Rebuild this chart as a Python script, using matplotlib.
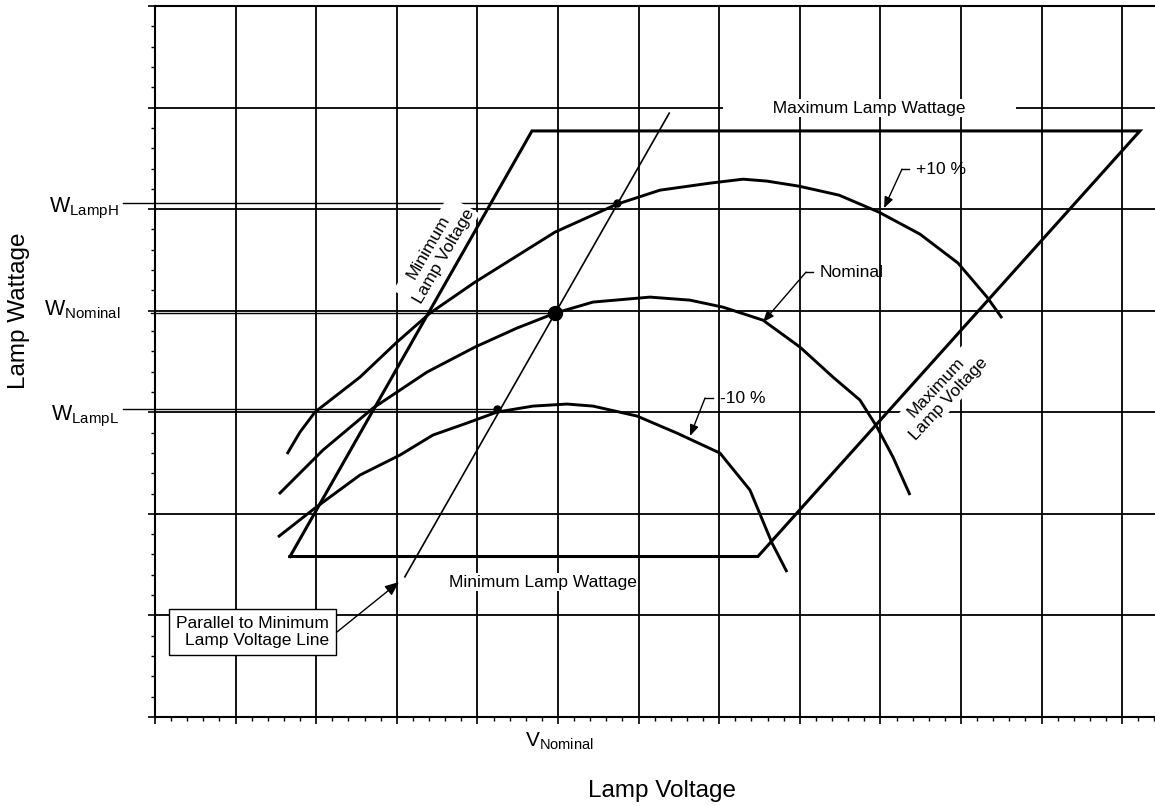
import matplotlib
matplotlib.use('Agg')
import matplotlib.pyplot as plt
from matplotlib.ticker import MultipleLocator, NullFormatter

plt.rcParams['font.family'] = ['Liberation Sans', 'DejaVu Sans']
plt.rcParams['mathtext.default'] = 'regular'

# Lamp curves in grid units (voltage, wattage)
plus10_v = [1.638, 1.799, 1.985, 2.543, 3.002, 3.412, 3.970, 4.963, 5.732, 6.266,
            6.886, 7.295, 7.593, 7.990, 8.486, 8.983, 9.491, 9.963, 10.323, 10.509]
plus10_w = [2.589, 2.805, 3.002, 3.346, 3.691, 3.976, 4.281, 4.774, 5.049, 5.187,
            5.256, 5.295, 5.276, 5.226, 5.138, 4.970, 4.754, 4.469, 4.134, 3.927]

nominal_v = [1.538, 2.084, 2.705, 3.375, 3.970, 4.491, 4.963, 5.434, 6.141, 6.638,
             7.047, 7.543, 8.002, 8.412, 8.747, 8.958, 9.156, 9.367]
nominal_w = [2.195, 2.628, 3.041, 3.396, 3.642, 3.829, 3.976, 4.085, 4.134, 4.104,
             4.035, 3.907, 3.642, 3.346, 3.120, 2.854, 2.559, 2.185]

minus10_v = [1.526, 1.985, 2.543, 3.040, 3.449, 3.871, 4.243, 4.690, 5.112, 5.434,
             5.980, 6.476, 7.010, 7.382, 7.655, 7.841]
minus10_w = [1.772, 2.057, 2.382, 2.579, 2.776, 2.894, 3.002, 3.061, 3.081, 3.061,
             2.963, 2.795, 2.598, 2.234, 1.713, 1.427]

# operating points: W_LampL, W_Nominal, W_LampH
op_v = [4.24, 4.96, 5.73]
op_w = [3.03, 3.98, 5.06]

# operating envelope (min/max lamp voltage and wattage)
env_v = [1.675, 4.677, 12.22, 7.48, 1.675]
env_w = [1.58, 5.77, 5.77, 1.58, 1.58]

# line parallel to minimum lamp voltage
par_v = [3.10, 6.38]
par_w = [1.38, 5.945]

fig = plt.figure(figsize=(11.55, 8.06), dpi=100)
ax = fig.add_axes([155 / 1155, 89 / 806, 1000 / 1155, 711 / 806])
ax.set_xlim(0, 1000 / 80.6)
ax.set_ylim(0, 7)

ax.xaxis.set_major_locator(MultipleLocator(1))
ax.xaxis.set_minor_locator(MultipleLocator(0.2))
ax.yaxis.set_major_locator(MultipleLocator(1))
ax.yaxis.set_minor_locator(MultipleLocator(0.2))
ax.xaxis.set_major_formatter(NullFormatter())
ax.yaxis.set_major_formatter(NullFormatter())
ax.tick_params(which='major', direction='out', length=5, width=1.2, color='black')
ax.tick_params(which='minor', direction='out', length=3.2, width=1, color='black')
ax.grid(True, which='major', color='black', lw=1.3)
ax.set_axisbelow(True)
for s in ['left', 'bottom', 'top']:
    ax.spines[s].set_linewidth(1.5)
ax.spines['right'].set_visible(False)

curve_style = dict(color='black', lw=2.1, zorder=3, solid_joinstyle='round', solid_capstyle='butt')
ax.plot(plus10_v, plus10_w, **curve_style)
ax.plot(nominal_v, nominal_w, **curve_style)
ax.plot(minus10_v, minus10_w, **curve_style)
ax.plot(env_v, env_w, color='black', lw=2.2, zorder=3, solid_joinstyle='miter')
ax.plot(par_v, par_w, color='black', lw=1.2, zorder=3)

# guide lines to the W axis
ax.plot([-0.40, op_v[2]], [op_w[2], op_w[2]], color='black', lw=1.0, zorder=2, clip_on=False)
ax.plot([-0.05, op_v[1]], [op_w[1], op_w[1]], color='black', lw=1.0, zorder=2, clip_on=False)
ax.plot([-0.40, op_v[0]], [op_w[0], op_w[0]], color='black', lw=1.0, zorder=2, clip_on=False)

ax.plot(op_v[1], op_w[1], 'o', color='black', ms=10, zorder=4)
ax.plot([op_v[0], op_v[2]], [op_w[0], op_w[2]], 'o', color='black', ms=5, zorder=4)

# W labels left of axis
ax.text(-0.45, 4.970, r'$W_{LampH}$', ha='right', va='baseline', fontsize=15.5, clip_on=False)
ax.text(-0.43, 3.957, r'$W_{Nominal}$', ha='right', va='baseline', fontsize=15.5, clip_on=False)
ax.text(-0.45, 2.923, r'$W_{LampL}$', ha='right', va='baseline', fontsize=15.5, clip_on=False)
ax.text(4.59, -0.295, r'$V_{Nominal}$', ha='left', va='baseline', fontsize=15, clip_on=False)

fs = 12.5
white = dict(boxstyle='square,pad=0.1', fc='white', ec='none')
ax.text(8.865, 5.994, ' ' * 10 + 'Maximum Lamp Wattage' + ' ' * 10, ha='center', va='center',
        fontsize=fs, bbox=white, zorder=2.5)
ax.text(4.808, 1.329, 'Minimum Lamp Wattage', ha='center', va='center',
        fontsize=fs, bbox=white, zorder=2.5)
ax.text(3.493, 4.577, 'Minimum\nLamp Voltage', rotation=60, rotation_mode='anchor',
        ha='center', va='center', multialignment='center', linespacing=1.25,
        fontsize=fs, bbox=white, zorder=2.5)
ax.text(9.770, 3.191, 'Maximum\nLamp Voltage', rotation=47, rotation_mode='anchor',
        ha='center', va='center', multialignment='center', linespacing=1.2,
        fontsize=fs, bbox=white, zorder=2.5)

# curve call-outs
arrow = dict(arrowstyle='-|>,head_length=0.55,head_width=0.22', color='black', lw=1,
             shrinkA=0, shrinkB=0, mutation_scale=12)
callouts = [('+10 %', 9.442, 5.394, 9.355, 9.268, 9.045, 5.01),
            ('Nominal', 8.251, 4.380, 8.164, 8.077, 7.543, 3.888),
            ('-10 %', 7.010, 3.140, 6.923, 6.824, 6.638, 2.766)]
for label, tx, ty, c0, c1, hx, hy in callouts:
    ax.text(tx, ty, label, ha='left', va='center', fontsize=fs, zorder=5)
    ax.plot([c0, c1], [ty, ty], color='black', lw=1, zorder=5)
    ax.annotate('', xy=(hx, hy), xytext=(c1, ty), arrowprops=arrow, zorder=5)

ax.text(2.159, 0.837, 'Parallel to Minimum\nLamp Voltage Line', ha='right', va='center',
        multialignment='right', fontsize=fs, zorder=5,
        bbox=dict(boxstyle='square,pad=0.4', fc='white', ec='black', lw=1))
ax.annotate('', xy=(3.027, 1.329), xytext=(2.258, 0.837),
            arrowprops=dict(arrowstyle='-|>,head_length=0.6,head_width=0.25', color='black',
                            lw=1, shrinkA=0, shrinkB=0, mutation_scale=14), zorder=5)

fig.text(662 / 1155, 1 - 797 / 806, 'Lamp Voltage', ha='center', va='baseline', fontsize=17.5)
fig.text(19 / 1155, 1 - 311 / 806, 'Lamp Wattage', rotation=90, ha='center', va='center',
         fontsize=17.5)

fig.savefig('out.png', dpi=100)
